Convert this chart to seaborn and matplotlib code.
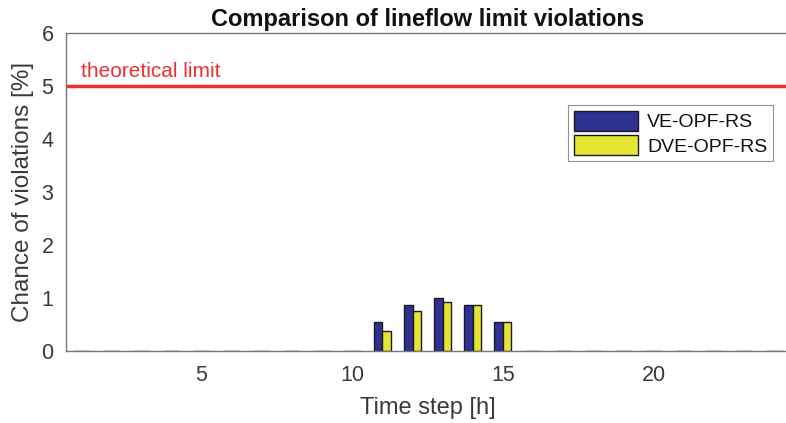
import matplotlib
matplotlib.use("Agg")
import matplotlib.pyplot as plt
import seaborn as sns
import pandas as pd
import numpy as np

hours = list(range(1, 25))
ve_opf_rs = [0, 0, 0, 0, 0, 0, 0, 0, 0, 0, 0.55, 0.86, 1.01, 0.875, 0.555,
             0, 0, 0, 0, 0, 0, 0, 0, 0]
dve_opf_rs = [0, 0, 0, 0, 0, 0, 0, 0, 0, 0, 0.37, 0.755, 0.925, 0.875, 0.555,
              0, 0, 0, 0, 0, 0, 0, 0, 0]
series_names = ["VE-OPF-RS", "DVE-OPF-RS"]
theoretical_limit = 5
x_ticks = [5, 10, 15, 20]
y_ticks = [0, 1, 2, 3, 4, 5, 6]

df = pd.DataFrame({
    "hour": hours * 2,
    "value": ve_opf_rs + dve_opf_rs,
    "method": [series_names[0]] * len(hours) + [series_names[1]] * len(hours),
})

sns.set_theme(style="white")
plt.rcParams["font.family"] = ["Liberation Sans", "DejaVu Sans"]
text_col = "#3a3a3a"

fig = plt.figure(figsize=(7.86, 4.23), dpi=100)
ax = fig.add_axes([0.084, 0.170, 0.92, 0.752])

sns.barplot(data=df, x="hour", y="value", hue="method", native_scale=True,
            palette=["#2E3192", "#E6E632"], width=0.56, dodge=True,
            edgecolor="#1a1a1a", linewidth=1.0, saturation=1, ax=ax,
            errorbar=None)

ax.axhline(theoretical_limit, color="#EE3030", lw=2.5, zorder=1)
ax.text(1.0, theoretical_limit + 0.1, "theoretical limit", color="#EE3030",
        fontsize=15, ha="left", va="bottom")

ax.set_xlim(0.5, 24.5)
ax.set_ylim(0, 6)
ax.set_xticks(x_ticks)
ax.set_yticks(y_ticks)
ax.tick_params(direction="in", length=4, colors="#888888", labelcolor=text_col,
               labelsize=15.5)
ax.tick_params(axis="x", pad=10)
ax.tick_params(axis="y", pad=9)
for s in ["left", "top", "bottom"]:
    ax.spines[s].set_color("#777777")
    ax.spines[s].set_linewidth(1.0)
ax.spines["right"].set_visible(False)

ax.set_xlabel("Time step [h]", fontsize=17, color=text_col, labelpad=8)
ax.set_ylabel("Chance of violations [%]", fontsize=17.5, color=text_col, labelpad=5)
ax.set_title("Comparison of lineflow limit violations", fontsize=17,
             fontweight="bold", color="#111111", pad=5,
             family=["Liberation Sans", "DejaVu Sans"])

leg = ax.legend(loc="upper right", bbox_to_anchor=(0.978, 0.774), fontsize=14,
                frameon=True, fancybox=False, edgecolor="#777777",
                handlelength=3.3, handleheight=1.2, borderpad=0.3,
                labelspacing=0.2, handletextpad=0.45, borderaxespad=0)
leg.get_frame().set_linewidth(0.8)
for t in leg.get_texts():
    t.set_color("#111111")

fig.savefig("out.png", dpi=100)
